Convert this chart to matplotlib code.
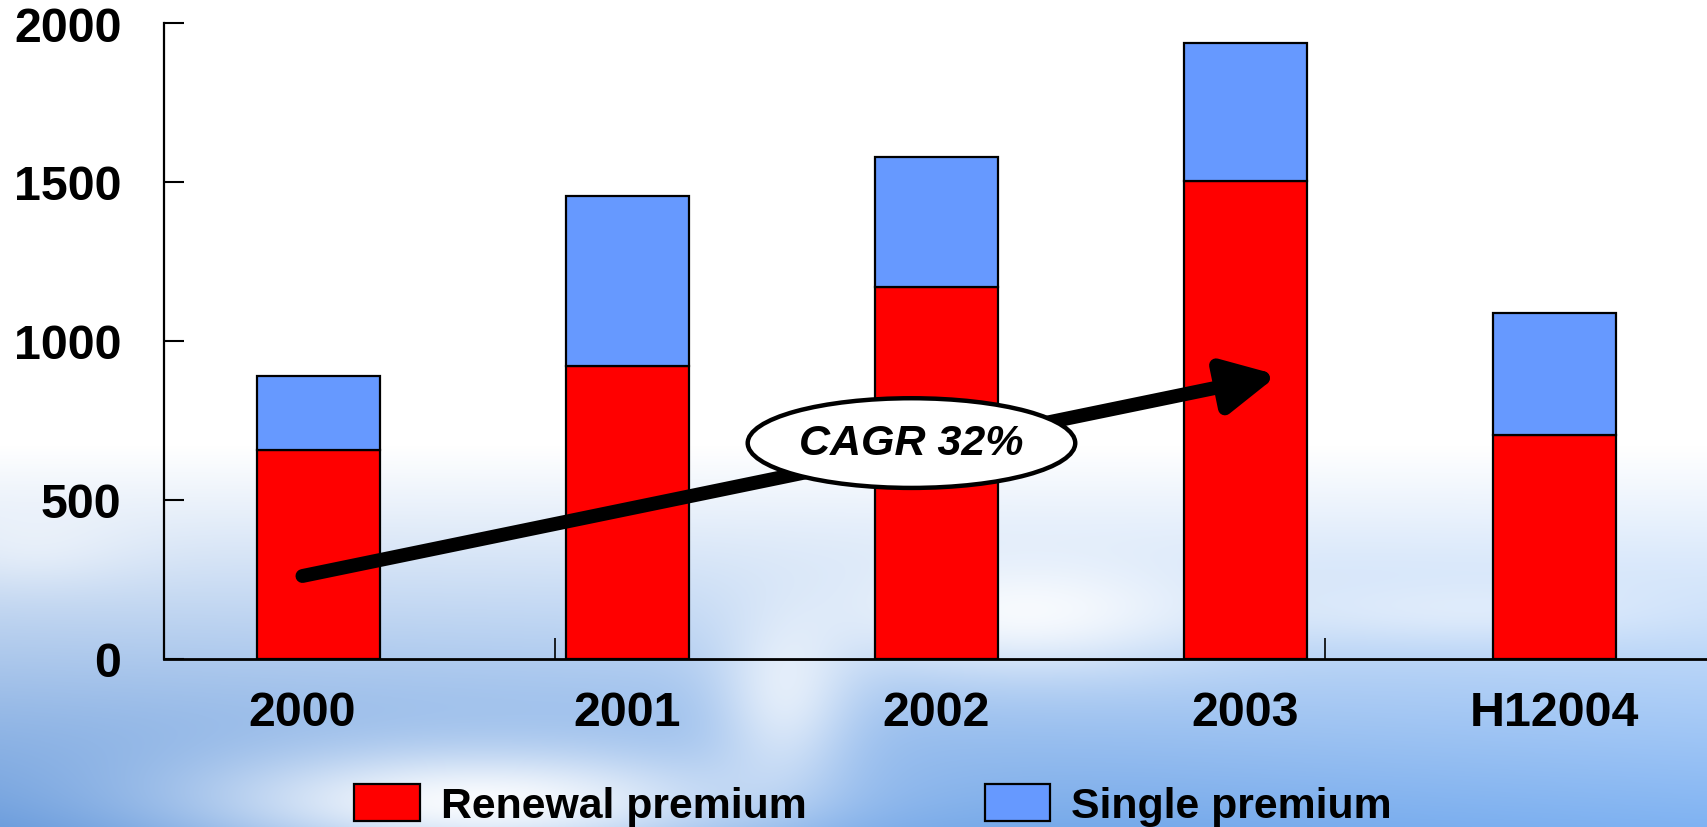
import numpy as np
import matplotlib
matplotlib.use("Agg")
import matplotlib.pyplot as plt
import matplotlib.transforms as mtransforms
from matplotlib.patches import Ellipse, Patch

plt.rcParams['font.family'] = ['Liberation Sans', 'DejaVu Sans']
plt.rcParams['font.weight'] = 'bold'

# Premium income by period
categories = ["2000", "2001", "2002", "2003", "H12004"]
renewal_premium = [657, 920, 1169, 1504, 704]
single_premium = [234, 537, 411, 432, 383]

series_labels = ["Renewal premium", "Single premium"]
y_ticks = [0, 500, 1000, 1500, 2000]
growth_label = "CAGR 32%"

RED = "#FF0000"
BLUE = "#6699FF"

W_PX, H_PX, DPI = 1707, 828, 100
fig = plt.figure(figsize=(W_PX / DPI, H_PX / DPI), dpi=DPI)

# Sky backdrop: white at the top fading to blue with soft clouds below
bg = fig.add_axes([0, 0, 1, 1], zorder=-10)
yy = np.linspace(0, 1, H_PX)[:, None]
xx = np.linspace(0, 1, W_PX)[None, :]
blend = np.clip((yy - 0.54) / 0.46, 0, 1) ** 1.05
sky_left = np.array([0.40, 0.60, 0.86])
sky_right = np.array([0.50, 0.70, 0.95])
sky = sky_left[None, None, :] * (1 - xx[..., None]) + sky_right[None, None, :] * xx[..., None]

def blob(cx, cy, sx, sy, amp):
    return amp * np.exp(-(((xx - cx) / sx) ** 2 + ((yy - cy) / sy) ** 2))

clouds = (blob(0.28, 0.97, 0.17, 0.07, 0.95)
          + blob(0.46, 0.84, 0.04, 0.10, 0.65)
          + blob(0.60, 0.74, 0.11, 0.07, 0.85)
          + blob(0.02, 0.66, 0.06, 0.05, 0.35)
          + blob(0.86, 0.74, 0.12, 0.04, 0.40))
clouds = np.clip(clouds, 0, 1)
white_w = np.clip((1 - blend) + clouds * blend, 0, 1)
img = sky * (1 - white_w[..., None]) + white_w[..., None]
bg.imshow(img, aspect='auto', extent=[0, 1, 0, 1], interpolation='bilinear')
bg.set_axis_off()

# Main chart axes
left_px, right_px, top_px, bottom_px = 164, 1709, 24, 660
ax = fig.add_axes([left_px / W_PX, 1 - bottom_px / H_PX,
                   (right_px - left_px) / W_PX, (bottom_px - top_px) / H_PX])
ax.patch.set_alpha(0)

x = np.arange(len(categories))
bar_w = 0.4
ax.bar(x, renewal_premium, width=bar_w, color=RED, edgecolor='black',
       linewidth=1.6, zorder=2)
ax.bar(x, single_premium, width=bar_w, bottom=renewal_premium, color=BLUE,
       edgecolor='black', linewidth=1.6, zorder=2)

ax.set_xlim(-0.5, 4.5)
ax.set_ylim(0, 2000)

for s in ['top', 'right']:
    ax.spines[s].set_visible(False)
ax.spines['left'].set_linewidth(1.6)
ax.spines['bottom'].set_linewidth(2.0)
ax.spines['left'].set_zorder(3)
ax.spines['bottom'].set_zorder(3)

ax.set_yticks(y_ticks)
ax.set_yticklabels([str(v) for v in y_ticks], fontsize=34.8, fontweight='bold')
ax.tick_params(axis='y', direction='in', length=14.5, width=1.5, pad=30.6)

ax.set_xticks(x)
ax.set_xticklabels(categories, fontsize=34.8, fontweight='bold')
ax.tick_params(axis='x', length=0, pad=22)
ax.set_xticks([0.764, 3.256], minor=True)
ax.tick_params(axis='x', which='minor', direction='in', length=15, width=1.2)

# First category label sits a little left of its bar
first = ax.get_xticklabels()[0]
first.set_transform(first.get_transform() +
                    mtransforms.ScaledTranslation(-16 / DPI, 0, fig.dpi_scale_trans))

# Growth arrow with its label
ax.annotate("", xy=(3.105, 893), xytext=(-0.052, 261),
            arrowprops=dict(arrowstyle="-|>,head_length=1.3,head_width=0.66",
                            lw=10, color='black', mutation_scale=24,
                            shrinkA=0, shrinkB=0),
            zorder=4)
ax.add_patch(Ellipse((1.919, 679), width=1.06, height=282, facecolor='white',
                     edgecolor='black', linewidth=3.2, zorder=5))
ax.text(1.919, 679, growth_label, fontsize=31, fontweight='bold',
        fontstyle='italic', ha='center', va='center', zorder=6)

# Legend along the bottom edge
handles = [Patch(facecolor=RED, edgecolor='black', linewidth=1.6),
           Patch(facecolor=BLUE, edgecolor='black', linewidth=1.6)]
fig.legend(handles, series_labels, loc='center left',
           bbox_to_anchor=(354 / W_PX, 1 - 806 / H_PX), ncol=2, frameon=False,
           prop={'weight': 'bold', 'size': 30.8},
           handlelength=1.54, handleheight=0.96, handletextpad=0.49,
           columnspacing=4.16, borderpad=0, borderaxespad=0)

fig.savefig("out.png", dpi=DPI)
